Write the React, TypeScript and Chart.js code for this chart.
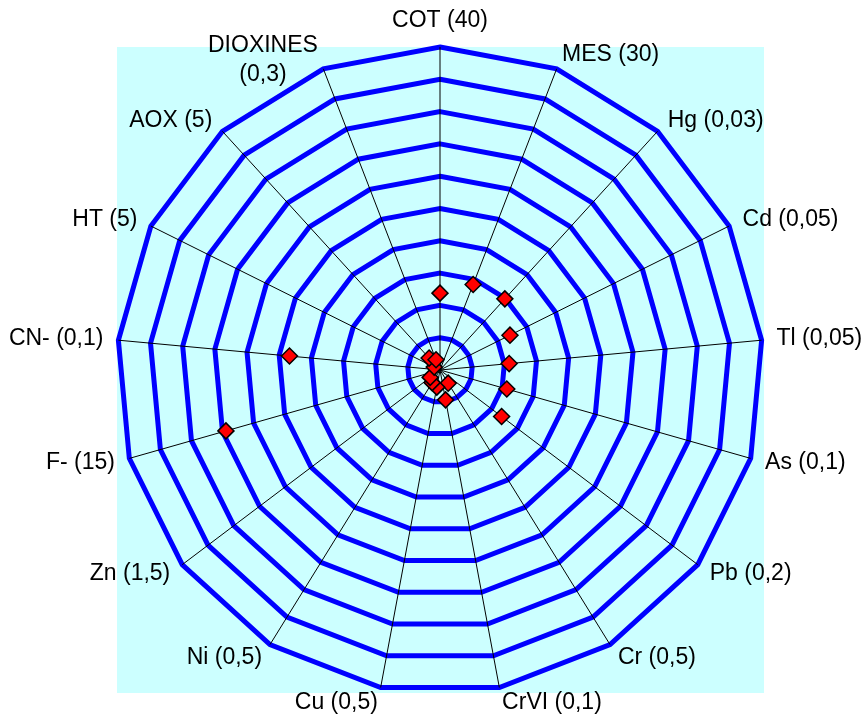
import { useEffect, useRef } from 'react';
import { Chart, registerables } from 'chart.js';

Chart.register(...registerables);

// Axes (parameter) and their limit values, as printed on the chart
const categories = ['COT', 'MES', 'Hg', 'Cd', 'Tl', 'As', 'Pb', 'Cr', 'CrVI', 'Cu', 'Ni', 'Zn', 'F-', 'CN-', 'HT', 'AOX', 'DIOXINES'];
const limits = ['40', '30', '0,03', '0,05', '0,05', '0,1', '0,2', '0,5', '0,1', '0,5', '0,5', '1,5', '15', '0,1', '5', '5', '0,3'];
const values = [23.8, 28.4, 29.8, 24.2, 21.5, 21.5, 23.9, 4.8, 9.4, 5.4, 4.6, 3.8, 68.9, 46.8, 2, 5, 3.4];
// Radial scale
const scaleMin = 0;
const scaleMax = 100;
const scaleStep = 10;

const labels = categories.map((c, i) =>
  c === 'DIOXINES' ? [c, `(${limits[i]})`] : `${c} (${limits[i]})`
);

const FONT = '23px "Liberation Sans", Arial, sans-serif';

const radarDecor = {
  id: 'radarDecor',
  beforeDraw(chart: any) {
    const s = chart.scales.r;
    const ctx = chart.ctx;
    ctx.save();
    ctx.fillStyle = '#ccffff';
    ctx.fillRect(s.xCenter - s.drawingArea, s.yCenter - s.drawingArea, 2 * s.drawingArea + 1, 2 * s.drawingArea);
    ctx.restore();
  },
  afterDraw(chart: any) {
    const s = chart.scales.r;
    const ctx = chart.ctx;
    const labs = chart.data.labels as any[];
    const n = labs.length;
    ctx.save();
    ctx.font = FONT;
    ctx.fillStyle = '#000000';
    ctx.textBaseline = 'middle';
    labs.forEach((lab, i) => {
      const p = s.getPointPosition(i, s.drawingArea + 15);
      const ang = (i / n) * 2 * Math.PI;
      const sin = Math.sin(ang);
      const cos = Math.cos(ang);
      const lines: string[] = Array.isArray(lab) ? lab : [lab];
      const multi = lines.length > 1;
      const lh = multi ? 29 : 22;
      let centerY = p.y + (multi ? 5 : 0);
      const blockW = Math.max(...lines.map((l) => ctx.measureText(l).width));
      let cx = p.x;
      if (Math.abs(sin) < 1e-6) {
        const h = lines.length * lh;
        centerY = cos > 0 ? p.y - h / 2 : p.y + h / 2;
      } else {
        cx = sin > 0 ? p.x + blockW / 2 : p.x - blockW / 2;
      }
      ctx.textAlign = 'center';
      lines.forEach((ln, k) => {
        ctx.fillText(ln, cx, centerY + (k - (lines.length - 1) / 2) * lh);
      });
    });
    ctx.restore();
  },
};

export default function App() {
  const ref = useRef<HTMLCanvasElement | null>(null);

  useEffect(() => {
    if (!ref.current) return;
    const chart = new Chart(ref.current, {
      type: 'radar',
      data: {
        labels,
        datasets: [
          {
            data: values,
            showLine: false,
            borderWidth: 0,
            borderColor: 'rgba(0,0,0,0)',
            backgroundColor: 'rgba(0,0,0,0)',
            fill: false,
            pointStyle: 'rectRot',
            pointRadius: 8,
            pointHoverRadius: 8,
            pointBorderWidth: 1.5,
            pointBorderColor: '#000000',
            pointBackgroundColor: '#ff0000',
          } as any,
        ],
      },
      options: {
        animation: false,
        responsive: false,
        layout: { padding: { left: 117, right: 102, top: 47, bottom: 22 } },
        plugins: {
          legend: { display: false },
          tooltip: { enabled: false },
        },
        scales: {
          r: {
            min: scaleMin,
            max: scaleMax,
            ticks: { display: false, stepSize: scaleStep },
            grid: { color: '#0000ff', lineWidth: 5 },
            angleLines: { color: '#000000', lineWidth: 1 },
            pointLabels: { display: false },
          },
        },
      } as any,
      plugins: [radarDecor],
    });
    return () => chart.destroy();
  }, []);

  return (
    <div style={{ position: 'absolute', left: 0, top: 0, width: 865, height: 715 }}>
      <canvas ref={ref} width={865} height={715} style={{ display: 'block' }} />
    </div>
  );
}
